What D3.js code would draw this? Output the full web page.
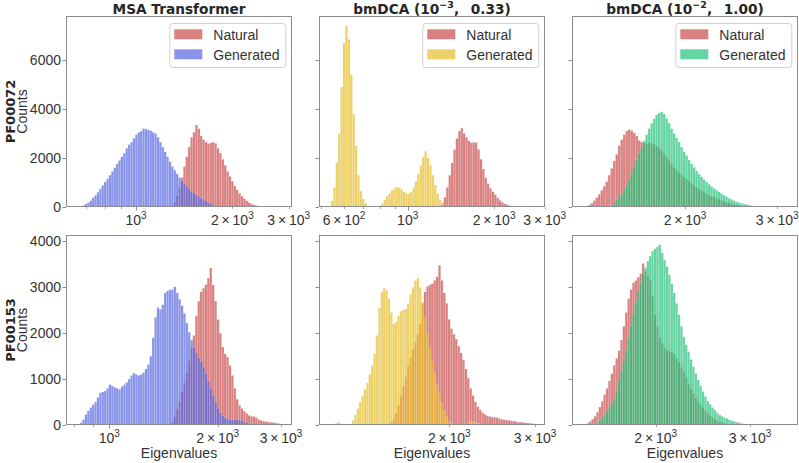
<!DOCTYPE html>
<html><head><meta charset="utf-8">
<script src="https://cdn.jsdelivr.net/npm/d3@7"></script>
<style>body{margin:0;background:#fff}svg{display:block}</style>
</head><body>
<svg id="c" width="799" height="463"></svg>
<script>
// ---------------- data ----------------
const columnTitles = ["MSA Transformer", "bmDCA (10^-3, 0.33)", "bmDCA (10^-2, 1.00)"];
const rowLabels = ["PF00072", "PF00153"];
const seriesNames = ["Natural", "Generated"];
const yLabel = "Counts";
const xLabel = "Eigenvalues";
// x domain (eigenvalues, log scale) of each panel, row-major
const xDomains = [[604, 3072], [491, 3008], [1217, 3287], [758, 3217], [1080, 3145], [1396, 3687]];
const yMaxByRow = [7800, 4140];
const yTicksByRow = [[0, 2000, 4000, 6000], [0, 1000, 2000, 3000, 4000]];
const xTickLabels = [[1000, 2000, 3000], [600, 1000, 2000, 3000], [2000, 3000], [1000, 2000, 3000], [2000, 3000], [2000, 3000]];
const xMinorTicks = [[700, 800, 900, 1000, 2000, 3000], [500, 600, 700, 800, 900, 1000, 2000, 3000], [2000, 3000], [800, 900, 1000, 2000, 3000], [2000, 3000], [2000, 3000]];
// histogram bins: width in log10 units, first bin left edge per series
const binLogWidth = [0.0075, 0.00836, 0.00477, 0.00667, 0.00493, 0.00448];
const naturalStart = [1288, 1310, 1306, 1485, 1513, 1487];
const generatedStart = [668, 540, 1441, 829, 1165, 1549];

const natural_PF00072_msa = [60,200,450,800,1200,1650,2050,2450,2850,3050,3350,3200,2900,2750,2650,2580,2620,2650,2600,2400,2200,1950,1700,1450,1250,1050,860,700,560,440,340,250,180,130,90,60,40,25,10];
const generated_PF00072_msa = [30,60,120,180,260,380,480,600,740,880,1020,1150,1300,1450,1600,1760,1900,2050,2200,2400,2550,2650,2800,2950,3050,3100,3200,3180,3150,3120,3050,3000,2850,2650,2450,2250,2050,1850,1650,1500,1350,1200,1080,960,850,740,650,570,500,430,370,310,250,190,140,100,60,30];
const natural_PF00072_dca3 = [150,400,800,1300,1800,2350,2800,3100,3220,3000,2850,2700,2620,2640,2630,2350,1950,1550,1200,950,760,620,500,370,270,190,130,90,60,35,15];
const generated_PF00072_dca3 = [250,800,1800,3000,4900,6700,7400,6850,5400,3800,2500,1300,650,330,150,40,0,0,0,10,60,150,300,450,560,680,760,820,800,720,620,560,540,620,800,1050,1350,1700,2050,2280,2000,1700,1300,900,550,300,100];
const natural_PF00072_dca2 = [80,150,260,380,520,680,850,1040,1300,1580,1880,2150,2500,2750,2950,3100,3170,3120,3030,2900,2720,2650,2610,2590,2620,2600,2560,2480,2400,2300,2180,2050,1900,1750,1620,1500,1400,1300,1220,1130,1050,950,880,800,730,660,600,540,480,440,400,350,310,270,235,200,170,140,115,95,75,55,40,28,15,8];
const generated_PF00072_dca2 = [60,170,290,420,550,700,880,1100,1350,1650,1930,2200,2450,2700,2950,3200,3420,3600,3760,3840,3890,3800,3620,3420,3200,3000,2820,2650,2450,2250,2100,1920,1760,1620,1480,1350,1230,1120,1030,930,840,760,690,620,550,480,420,360,310,260,220,180,150,125,105,80,60,40,25,12];
const natural_PF00153_msa = [60,180,350,520,720,920,1130,1400,1680,1950,2380,2700,2900,2980,3060,3200,3420,3050,2700,2300,2000,1700,1550,1480,1300,1080,800,560,430,360,300,250,210,190,185,160,120,100,85,75,70,60,55,45,35,25,15];
const generated_PF00153_msa = [50,120,230,310,380,440,500,600,700,720,740,800,880,850,820,800,780,840,880,930,1000,1080,1130,1100,1080,1100,1140,1220,1320,1500,1900,2350,2560,2520,2620,2880,2920,2950,2950,3010,2880,2740,2600,2430,2220,2020,1850,1680,1570,1470,1380,1260,1120,960,800,640,500,360,260,200,160,140,120,110,115,120,110,95,75,50,30,12];
const natural_PF00153_dca3 = [60,130,260,430,620,840,1050,1280,1460,1640,1800,1980,2200,2650,2900,3020,3050,3080,3150,3230,3480,3150,2880,2650,2300,2100,1980,1870,1720,1570,1420,1220,1020,800,640,500,400,330,270,230,200,185,175,170,160,140,125,115,105,100,92,85,75,65,60,55,48,42,36,30,20];
const generated_PF00153_dca3 = [40,60,30,0,0,0,20,100,220,360,500,640,780,920,1100,1300,1550,1950,2550,2900,2980,2940,2750,2450,2200,2250,2380,2480,2510,2530,2650,2850,3000,3150,3200,3000,2680,2350,2000,1680,1380,1130,880,680,480,300,180,90,40,10,0,0,0,0,20,50,70,70,60,40,20];
const natural_PF00153_dca2 = [40,80,130,190,280,390,520,660,800,960,1120,1300,1450,1620,1850,2150,2450,2750,2950,3100,3150,3220,3300,3520,3350,3250,3150,2800,2400,2150,1900,1780,1680,1620,1600,1580,1540,1450,1360,1260,1150,1040,900,780,680,590,510,440,380,310,250,200,160,120,95,70,50,35];
const generated_PF00153_dca2 = [50,100,160,220,290,370,450,560,750,970,1180,1400,1630,1900,2170,2440,2680,2900,3100,3290,3430,3570,3680,3790,3840,3880,3930,3750,3600,3450,3270,3080,2880,2650,2400,2150,1920,1750,1600,1430,1270,1120,980,860,730,620,520,450,380,320,260,220,190,160,140,115,95,80,65,50,38,25,15];

const naturalCounts = [natural_PF00072_msa, natural_PF00072_dca3, natural_PF00072_dca2, natural_PF00153_msa, natural_PF00153_dca3, natural_PF00153_dca2];
const generatedCounts = [generated_PF00072_msa, generated_PF00072_dca3, generated_PF00072_dca2, generated_PF00153_msa, generated_PF00153_dca3, generated_PF00153_dca2];

// ---------------- style / layout ----------------
const naturalColor = "#c94a4a";
const generatedColors = ["#5566e0", "#e6bd2a", "#22c27a"];
const barOpacity = 0.7;
const colLeft = [66, 319, 572], panelW = 226;
const rowTop = [16, 235], rowH = [191, 190];
const spineColor = "#8c8c8c", textColor = "#333";
const sans = "'Liberation Sans', Arial, sans-serif";
const boldFont = "'DejaVu Sans', sans-serif";

const svg = d3.select("#c");

function addLogLabel(sel, v) {
  const e = Math.floor(Math.log10(v) + 1e-9);
  const m = Math.round(v / Math.pow(10, e));
  const t = sel.append("text");
  t.append("tspan").text(m === 1 ? "10" : m + "\u2009×\u200910");
  t.append("tspan").attr("dy", -6).attr("font-size", 10).text(String(e));
  return t;
}

for (let r = 0; r < 2; r++) {
  for (let c = 0; c < 3; c++) {
    const p = r * 3 + c;
    const L = colLeft[c], T = rowTop[r], H = rowH[r];
    const x = d3.scaleLog().domain(xDomains[p]).range([L, L + panelW]);
    const y = d3.scaleLinear().domain([0, yMaxByRow[r]]).range([T + H, T]);
    const g = svg.append("g");
    const clipId = "clip" + p;
    svg.append("clipPath").attr("id", clipId).append("rect")
      .attr("x", L).attr("y", T).attr("width", panelW).attr("height", H);
    const bars = g.append("g").attr("clip-path", `url(#${clipId})`);

    function drawSeries(counts, start, w, color) {
      const bins = counts.map((cnt, i) => ({
        x0: start * Math.pow(10, i * w),
        x1: start * Math.pow(10, (i + 1) * w),
        cnt
      })).filter(d => d.cnt > 0);
      bars.append("g").selectAll("rect").data(bins).join("rect")
        .attr("x", d => x(d.x0))
        .attr("width", d => Math.max(0, x(d.x1) - x(d.x0)))
        .attr("y", d => y(d.cnt))
        .attr("height", d => y(0) - y(d.cnt))
        .attr("fill", color).attr("fill-opacity", barOpacity)
        .attr("stroke", "#fff").attr("stroke-opacity", 0.35).attr("stroke-width", 0.4);
    }
    drawSeries(naturalCounts[p], naturalStart[p], binLogWidth[p], naturalColor);
    drawSeries(generatedCounts[p], generatedStart[p], binLogWidth[p], generatedColors[c]);

    // frame
    g.append("rect").attr("x", L + 0.5).attr("y", T + 0.5).attr("width", panelW - 1).attr("height", H - 1)
      .attr("fill", "none").attr("stroke", spineColor).attr("stroke-width", 1);

    // y ticks
    const yt = g.append("g");
    yTicksByRow[r].forEach(v => {
      const yy = Math.round(y(v)) + 0.5;
      yt.append("line").attr("x1", L - 3.5).attr("x2", L).attr("y1", yy).attr("y2", yy)
        .attr("stroke", spineColor).attr("stroke-width", 1);
      if (c === 0) {
        yt.append("text").attr("x", L - 5).attr("y", y(v)).attr("dy", "0.35em")
          .attr("text-anchor", "end").attr("font-family", sans).attr("font-size", 14)
          .attr("fill", textColor).text(v);
      }
    });

    // x ticks (log: major + minor)
    const xt = g.append("g");
    const [d0, d1] = xDomains[p];
    xMinorTicks[p].filter(v => v >= d0 && v <= d1).forEach(v => {
      const major = Math.abs(Math.log10(v) - Math.round(Math.log10(v))) < 1e-9;
      const xx = Math.round(x(v)) + 0.5;
      xt.append("line").attr("x1", xx).attr("x2", xx).attr("y1", T + H).attr("y2", T + H + (major ? 3.5 : 2))
        .attr("stroke", spineColor).attr("stroke-width", major ? 1 : 0.8);
    });
    xTickLabels[p].forEach(v => {
      const t = addLogLabel(xt, v);
      t.attr("x", x(v)).attr("y", T + H + 17.5).attr("text-anchor", "middle")
        .attr("font-family", sans).attr("font-size", 14).attr("fill", textColor);
    });

    // titles
    if (r === 0) {
      const tt = g.append("text").attr("x", L + panelW / 2).attr("y", 13.5).attr("text-anchor", "middle")
        .attr("font-family", boldFont).attr("font-weight", "bold").attr("font-size", 13.7).attr("fill", "#262626");
      const title = columnTitles[c];
      const m = title.match(/^(.*\()10\^(-?\d+)(,.*)$/);
      if (m) {
        tt.append("tspan").text(m[1] + "10");
        tt.append("tspan").attr("dy", -6).attr("font-size", 9.5).text(m[2].replace("-", "−"));
        tt.append("tspan").attr("dy", 6).text(m[3].replace(",", ",\u2002"));
      } else tt.text(title);

      // legend
      const lw = 116, lh = 44;
      const lx = L + panelW - 6.7 - lw, ly = T + 7;
      const lg = g.append("g");
      lg.append("rect").attr("x", lx + 0.5).attr("y", ly + 0.5).attr("width", lw).attr("height", lh).attr("rx", 3)
        .attr("fill", "#fff").attr("fill-opacity", 0.8).attr("stroke", "#d0d0d0").attr("stroke-width", 1);
      [naturalColor, generatedColors[c]].forEach((col, i) => {
        lg.append("rect").attr("x", lx + 5).attr("y", ly + 6.3 + i * 20).attr("width", 28).attr("height", 10)
          .attr("fill", col).attr("fill-opacity", barOpacity);
        lg.append("text").attr("x", lx + 44).attr("y", ly + 16.5 + i * 20)
          .attr("font-family", sans).attr("font-size", 14).attr("fill", textColor).text(seriesNames[i]);
      });
    }
    // row labels
    if (c === 0) {
      const cy = T + H / 2;
      g.append("text").attr("transform", `translate(14.5,${cy}) rotate(-90)`).attr("text-anchor", "middle")
        .attr("font-family", boldFont).attr("font-weight", "bold").attr("font-size", 13).attr("fill", "#262626")
        .text(rowLabels[r]);
      g.append("text").attr("transform", `translate(27,${cy}) rotate(-90)`).attr("text-anchor", "middle")
        .attr("font-family", sans).attr("font-size", 14).attr("fill", textColor).text(yLabel);
    }
    if (r === 1) {
      g.append("text").attr("x", L + panelW / 2).attr("y", 458).attr("text-anchor", "middle")
        .attr("font-family", sans).attr("font-size", 14).attr("fill", textColor).text(xLabel);
    }
  }
}
</script>
</body></html>
